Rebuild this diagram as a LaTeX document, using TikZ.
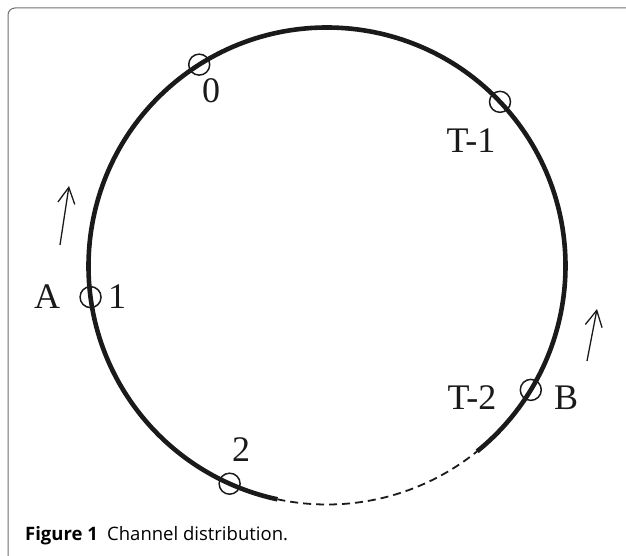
\documentclass[tikz,border=0pt]{standalone}
\usepackage{fontspec}
\setmainfont{Liberation Serif}
\newfontfamily\capfont{Open Sans}
\usetikzlibrary{positioning, arrows.meta, calc}
\definecolor{rimgray}{HTML}{6E6E6E}
\definecolor{inkblack}{HTML}{1A1A1A}

\begin{document}
\begin{tikzpicture}[x=1pt, y=1pt,
    chan/.style={circle, draw=inkblack, line width=1.5pt, minimum size=21pt, inner sep=0pt},
    lbl/.style={anchor=base, inner sep=0pt, font=\fontsize{36}{40}\selectfont, text=inkblack},
    dirarrow/.style={inkblack, line width=1.3pt, -{Straight Barb[length=16pt, width=17pt]}}]
  \useasboundingbox (0,0) rectangle (626,556);
  \draw[rimgray, line width=1pt, rounded corners=7pt] (8,0) -- (8,548) -- (626,548);
  \coordinate (ctr) at (327,290);
  % ring of channels
  \draw[inkblack, line width=4.6pt] ($(ctr)+(309:238.5)$) arc[start angle=309, end angle=618, radius=238.5];
  \draw[inkblack, line width=1.8pt, dash pattern=on 8pt off 5pt] ($(ctr)+(258:238.5)$) arc[start angle=258, end angle=309, radius=238.5];
  % channels on the ring
  \node[chan] (c0) at ($(ctr)+(122.4:238.5)$) {};
  \node[chan] (c1) at ($(ctr)+(187.5:238.5)$) {};
  \node[chan] (c2) at ($(ctr)+(245.9:238.5)$) {};
  \node[chan] (ct2) at ($(ctr)+(328.7:238.5)$) {};
  \node[chan] (ct1) at ($(ctr)+(43.5:238.5)$) {};
  \node[lbl] (l0) at (211,453) {0};
  \node[lbl] (lt1) at (471,403) {T-1};
  \node[lbl] (la) at (47,247) {A};
  \node[lbl] (l1) at (117,247) {1};
  \node[lbl] (lt2) at (472,146) {T-2};
  \node[lbl] (lb) at (566,146) {B};
  \node[lbl] (l2) at (241,94) {2};
  % direction arrows
  \coordinate (upA0) at (60,311);
  \coordinate (upA1) at (69,370);
  \draw[dirarrow] (upA0) -- (upA1);
  \coordinate (upB0) at (587,195);
  \coordinate (upB1) at (597,247);
  \draw[dirarrow] (upB0) -- (upB1);
  \node[anchor=base west, inner sep=0pt, font=\capfont\fontsize{18.5}{22}\selectfont] (cap) at (25,15)
    {\textbf{Figure 1}\hspace{0.5em}Channel distribution.};
\end{tikzpicture}
\end{document}
